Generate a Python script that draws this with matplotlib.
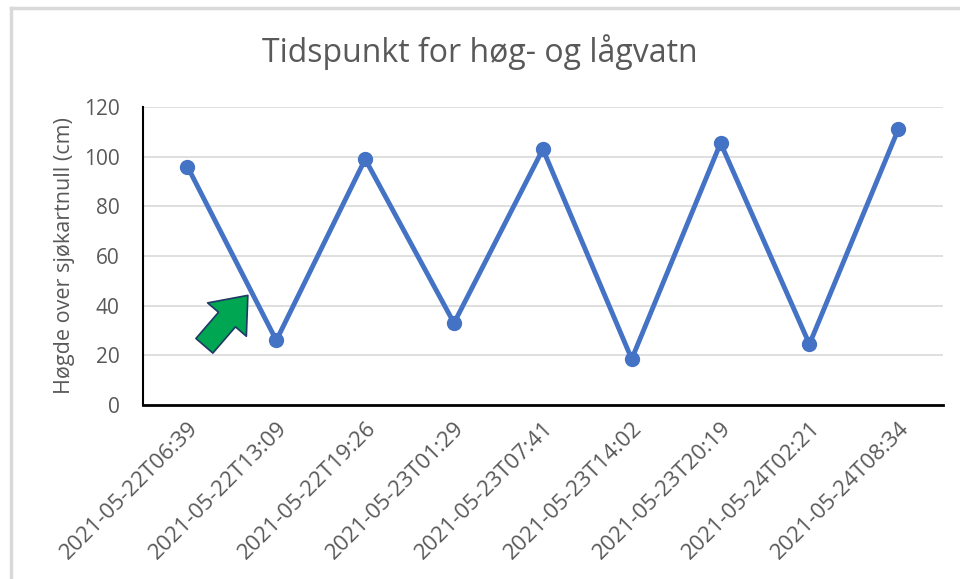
import matplotlib.pyplot as plt
from matplotlib.lines import Line2D

# Tidspunkt og høgde for høg- og lågvatn
tider = ["2021-05-22T06:39", "2021-05-22T13:09", "2021-05-22T19:26",
         "2021-05-23T01:29", "2021-05-23T07:41", "2021-05-23T14:02",
         "2021-05-23T20:19", "2021-05-24T02:21", "2021-05-24T08:34"]
hogde = [96, 26, 99, 33, 103, 18.5, 105.5, 24.5, 111]
yticks = [0, 20, 40, 60, 80, 100, 120]

plt.rcParams['font.family'] = ['Open Sans', 'DejaVu Sans']
grey = '#595959'

fig = plt.figure(figsize=(9.6, 5.79), dpi=100)
ax = fig.add_axes([0.149, 0.3005, 0.833, 0.5147])

x = list(range(len(tider)))
ax.plot(x, hogde, color='#4472C4', lw=3.5, marker='o', ms=10,
        solid_capstyle='round', zorder=3)

ax.set_xlim(-0.5, len(tider) - 0.5)
ax.set_ylim(0, 120)
ax.set_yticks(yticks)
ax.set_xticks(x)
ax.set_xticklabels(tider, rotation=45, ha='right', rotation_mode='anchor')
ax.tick_params(length=0, colors=grey, labelsize=15)
ax.tick_params(axis='x', pad=9, labelsize=16)
ax.tick_params(axis='y', pad=17)
ax.grid(axis='y', color='#D9D9D9', lw=1.2, zorder=0)
ax.set_axisbelow(True)

for s in ['top', 'right']:
    ax.spines[s].set_visible(False)
ax.spines['left'].set_color('black')
ax.spines['left'].set_linewidth(1.5)
ax.spines['bottom'].set_color('black')
ax.spines['bottom'].set_linewidth(2)

ax.set_ylabel('Høgde over sjøkartnull (cm)', color=grey, fontsize=15.5, labelpad=6)
fig.text(0.5, 0.91, 'Tidspunkt for høg- og lågvatn', ha='center', va='center',
         color=grey, fontsize=23)

# grøn pil
ax.annotate('', xy=(0.7, 45), xytext=(0.17, 23),
            arrowprops=dict(arrowstyle='simple,head_length=1.0,head_width=1.6,tail_width=0.7',
                            mutation_scale=23, fc='#00A651', ec='#1F3864', lw=1.2),
            zorder=4)

# ramme rundt diagrammet
fig.add_artist(Line2D([0.011, 0.011], [0, 0.986], color='#D9D9D9', lw=2.5))
fig.add_artist(Line2D([0.011, 1], [0.986, 0.986], color='#D9D9D9', lw=2.5))

fig.savefig('out.png', dpi=100)
